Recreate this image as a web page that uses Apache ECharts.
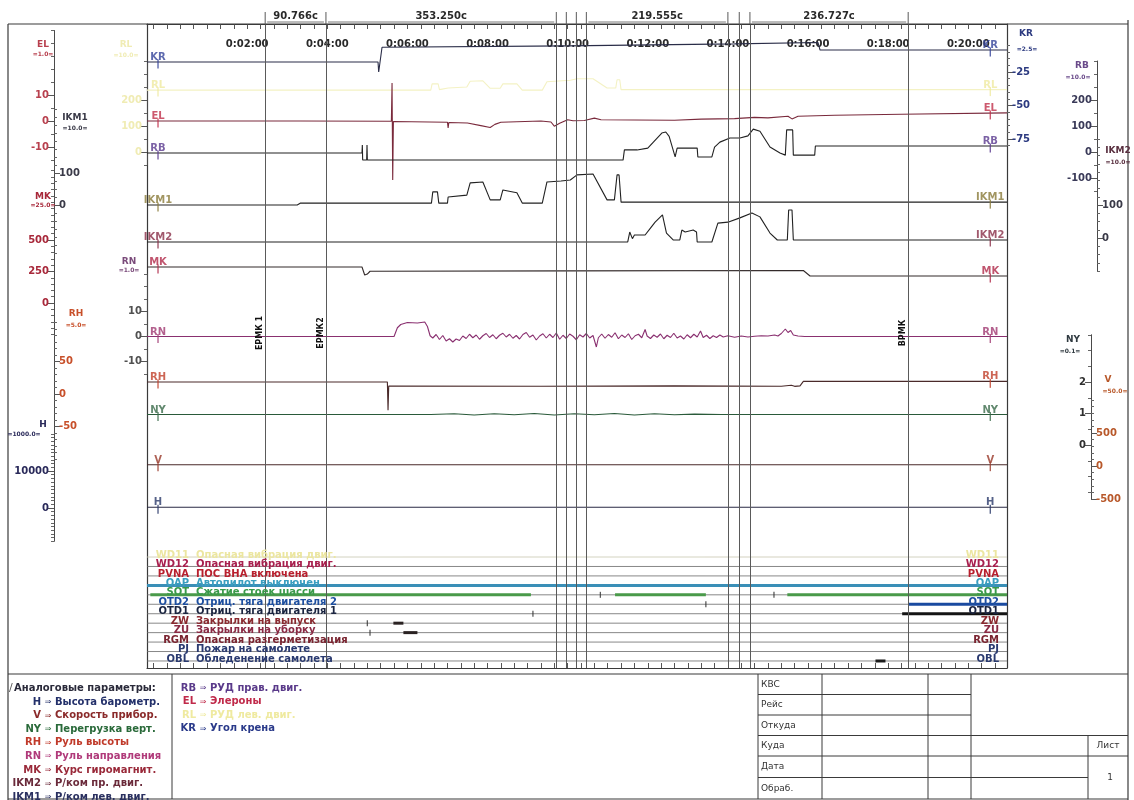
<!DOCTYPE html>
<html><head><meta charset="utf-8">
<script src="https://cdn.jsdelivr.net/npm/echarts@6.0.0/dist/echarts.min.js"></script>
<style>html,body{margin:0;padding:0;background:#fff}#c{width:1134px;height:800px}</style>
</head><body><div id="c"></div>
<script>
// ---------------- DATA ----------------
const timeTickSeconds = [120,240,360,480,600,720,840,960,1080,1200];
const timeTickLabels = ['0:02:00','0:04:00','0:06:00','0:08:00','0:10:00','0:12:00','0:14:00','0:16:00','0:18:00','0:20:00'];
const eventTimes = [147,238,583,598,613,628,840,857,873,1110];
const intervalLabels = ['90.766c','353.250c','219.555c','236.727c'];
const intervalSpans = [[0,1],[1,2],[5,6],[8,9]];
const eventMarkLabels = ['ЕРМК 1','ЕРМК2','ВРМК'];
const eventMarkTimes = [147,238,1110];

// analog channels: [seconds, value]
const KR = [[-30,-17.5],[316,-17.5],[317,-25],[318,-25],[322,-6.5],[600,-5.5],[850,-4],[975,-3],[978,-8.6],[1258,-8.6]];
const RL = [[-30,238],[395,238],[397,262],[406,262],[408,240],[421,246],[449,250],[454,272],[473,274],[484,245],[499,245],[503,262],[524,262],[532,238],[562,238],[569,270],[604,276],[614,282],[638,282],[659,246],[672,246],[674,278],[678,278],[680,240],[1258,240]];
const EL = [[-30,0.2],[200,0.2],[336,0.1],[337,14.8],[338,-22.5],[339,0],[420,-0.3],[421,-2.5],[422,-0.4],[450,-0.6],[470,-1.6],[484,-2.3],[491,-1.1],[500,-0.3],[560,0.2],[575,-0.2],[580,-1.8],[588,-0.7],[600,0.7],[608,0.3],[625,0.4],[640,1.3],[650,0.7],[700,0.6],[760,0.5],[800,0.9],[850,1.1],[880,1.6],[900,1.4],[930,2.0],[936,1.0],[945,2.0],[1000,2.4],[1100,2.8],[1258,3.3]];
const RB = [[-30,-4],[292,-4],[292.5,27],[293,-31],[299,-31],[299.5,27],[300,-31],[683,-31],[685,8],[704,8],[706,15],[720,15],[741,73],[747,77],[752,60],[761,-19],[763,-19],[764,15],[794,15],[795,-19],[816,-19],[820,19],[828,38],[843,54],[858,54],[870,62],[878,88],[888,80],[903,19],[918,-4],[926,-12],[928,85],[937,85],[938,-12],[970,-12],[971,23],[1258,23]];
const IKM1 = [[-30,0],[195,0],[200,6],[396,6],[398,41],[405,41],[407,6],[420,6],[421,25],[449,31],[454,69],[473,72],[484,16],[499,16],[503,47],[520,40],[524,38],[532,6],[562,6],[569,72],[590,75],[604,78],[614,94],[638,97],[659,16],[670,16],[674,94],[677,94],[680,9],[1258,9]];
const IKM2 = [[-30,-12],[683,-12],[690,-12],[693,18],[697,-2],[700,9],[716,9],[724,30],[731,48],[742,70],[748,15],[758,-6],[768,-6],[771,24],[776,18],[788,24],[793,18],[794,-12],[816,-12],[825,45],[840,48],[858,61],[876,76],[888,64],[903,15],[914,-6],[929,-6],[931,85],[936,85],[938,-6],[1258,-6]];
const MK = [[-30,286],[292,286],[296,222],[300,230],[304,252],[600,255],[953,258],[963,214],[1258,214]];
const RN = [[-30,0],[340,0],[345,3.5],[350,4.8],[360,5.6],[375,5.4],[386,5.8],[390,4.0],[394,0.3],[398,-0.6],[403,0.8],[408,-1.2],[413,0.4],[418,-1.8],[423,-0.9],[428,-2.2],[433,-1.0],[438,-1.6],[443,0.2],[448,-0.8],[453,0.9],[458,-0.5],[463,0.6],[468,-1.1],[473,0.3],[478,1.2],[483,-0.4],[488,0.7],[493,-0.9],[498,0.5],[503,1.3],[508,-0.2],[513,0.9],[518,-0.7],[523,0.4],[528,-1.0],[533,0.8],[538,1.6],[543,-0.3],[548,0.6],[553,-1.4],[558,0.2],[563,1.1],[568,-0.6],[573,0.9],[578,-0.4],[583,1.4],[588,-1.1],[593,0.5],[598,-0.8],[603,1.0],[608,0.1],[613,-1.3],[618,0.7],[623,-0.2],[628,1.2],[633,-0.6],[638,0.4],[643,-4.2],[646,-0.5],[651,1.0],[656,-0.7],[661,0.8],[666,-0.3],[671,1.5],[676,-0.9],[681,0.6],[686,-0.4],[691,1.1],[696,-1.2],[701,0.3],[706,0.9],[711,-0.5],[716,2.8],[719,0.2],[724,-0.8],[729,0.6],[734,-0.3],[739,1.0],[744,-0.9],[749,0.5],[754,-0.4],[759,1.3],[764,-0.6],[769,0.2],[774,-1.0],[779,0.7],[784,-0.5],[789,0.9],[794,-0.2],[799,2.2],[803,-0.4],[808,0.5],[813,-0.8],[818,0.3],[823,-0.4],[828,0.6],[833,-0.2],[840,0.3],[850,-0.3],[860,0.2],[870,-0.2],[880,0.1],[890,0.3],[900,0.2],[910,0.6],[915,0.2],[920,1.2],[926,3.0],[930,1.6],[934,2.4],[938,0.6],[945,0.2],[955,0],[1258,0]];
const RH = [[-30,18.5],[330,18.5],[331,-25],[332,12.3],[560,12.0],[760,12.5],[920,12.0],[935,13.5],[940,11.8],[948,12.5],[953,19.5],[1258,19.5]];
const NY = [[-30,0.97],[395,0.97],[430,0.99],[460,0.95],[490,0.99],[520,0.96],[550,1.0],[580,0.95],[610,0.99],[640,0.96],[670,1.0],[700,0.95],[730,0.99],[760,0.96],[790,0.98],[830,0.97],[1258,0.97]];
const V = [[-30,20],[1258,20]];
const H = [[-30,200],[1258,200]];

// discrete channels
const discreteCodes = ['WD11','WD12','PVNA','OAP','SOT','OTD2','OTD1','ZW','ZU','RGM','PJ','OBL'];
const discreteTexts = ['Опасная вибрация двиг.','Опасная вибрация двиг.','ПОС ВНА включена','Автопилот выключен','Сжатие стоек шасси','Отриц. тяга двигателя 2','Отриц. тяга двигателя 1','Закрылки на выпуск','Закрылки на уборку','Опасная разгерметизация','Пожар на самолете','Обледенение самолета'];
const oapOn = [[-30,1258]];
const sotOn = [[-25,545],[671,807],[929,1258]];
const otd2On = [[1110,1258]];
const otd1On = [[1101,1258]];
const zwOn = [[339,354]];
const zuOn = [[354,375]];
const oblOn = [[1061,1076]];
const discreteBlips = [[4,649],[4,909],[5,807],[6,548],[7,300],[8,304]]; // [row, seconds]

// legend text
const legendLeftCodes = ['H','V','NY','RH','RN','MK','IKM2','IKM1'];
const legendLeftTexts = ['Высота барометр.','Скорость прибор.','Перегрузка верт.','Руль высоты','Руль направления','Курс гиромагнит.','Р/ком пр. двиг.','Р/ком лев. двиг.'];
const legendMidCodes = ['RB','EL','RL','KR'];
const legendMidTexts = ['РУД прав. двиг.','Элероны','РУД лев. двиг.','Угол крена'];
const tableRows = ['КВС','Рейс','Откуда','Куда','Дата','Обраб.'];

// ---------------- LAYOUT / STYLE ----------------
const W = 1134, PL = 147, PR = 1007, PT = 24, PB = 668, T0 = -30, T1 = 1258;
const FONT = 'DejaVu Sans';
const chans = [
 {name:'KR', data:KR, line:'#2a2d48', color:'#34449a', y0:38.5, k:1.34, min:-80, max:-5, step:5, labels:[-25,-50,-75], pos:'right', off:0, inside:false, lab:'#2c3a80', nc:'#2c3a80', scale:'=2.5=', np:[1026,34], sp:[1027,49]},
 {name:'RL', data:RL, line:'#f4f2c4', color:'#efeaa0', y0:152, k:0.26, min:-50, max:350, step:50, labels:[200,100,0], pos:'left', off:0, inside:false, lab:'#f0ecb4', nc:'#f0ecb4', scale:'=10.0=', np:[126,45], sp:[126,55]},
 {name:'EL', data:EL, line:'#7a2a3c', color:'#c0304a', y0:121.5, k:2.6, min:-15, max:35, step:5, labels:[10,0,-10], pos:'left', off:93, inside:false, lab:'#b8404e', nc:'#b8404e', scale:'=1.0=', np:[43,45], sp:[43,54]},
 {name:'RB', data:RB, line:'#222', color:'#5a3a8e', y0:152, k:0.26, min:-150, max:350, step:50, labels:[200,100,0,-100], pos:'right', off:90, inside:true, lab:'#3a3a58', nc:'#6a4a8a', scale:'=10.0=', np:[1082,66], sp:[1078,77]},
 {name:'IKM1', data:IKM1, line:'#222', color:'#8a7a3a', y0:205, k:0.32, min:-150, max:300, step:25, labels:[100,0], pos:'left', off:93, inside:true, lab:'#3a3a48', nc:'#3a3a48', scale:'=10.0=', np:[75,118], sp:[75,128]},
 {name:'IKM2', data:IKM2, line:'#222', color:'#8a3048', y0:238, k:0.33, min:-100, max:300, step:25, labels:[100,0], pos:'right', off:90, inside:false, lab:'#3a3a48', nc:'#5a3040', scale:'=10.0=', np:[1118,151], sp:[1118,162]},
 {name:'MK', data:MK, line:'#332a2a', color:'#b02a4a', y0:303, k:0.126, min:-250, max:1050, step:50, labels:[500,250,0], pos:'left', off:93, inside:false, lab:'#a8283a', nc:'#a8283a', scale:'=25.0=', np:[43,197], sp:[43,205]},
 {name:'RN', data:RN, line:'#8a3070', color:'#a03a72', y0:336.5, k:2.5, min:-15, max:25, step:5, labels:[10,0,-10], pos:'left', off:0, inside:false, lab:'#505050', nc:'#7a4a7a', scale:'=1.0=', np:[129,262], sp:[129,270]},
 {name:'RH', data:RH, line:'#4a2a2a', color:'#c0402a', y0:394, k:0.65, min:-100, max:110, step:10, labels:[50,0,-50], pos:'left', off:93, inside:true, lab:'#c8502a', nc:'#c8502a', scale:'=5.0=', np:[76,314], sp:[76,325]},
 {name:'NY', data:NY, line:'#2a5a3a', color:'#3a6a4a', y0:445, k:31.5, min:-1.5, max:3.5, step:0.5, labels:[2,1,0], pos:'right', off:84, inside:true, lab:'#303030', nc:'#303a40', scale:'=0.1=', np:[1073,340], sp:[1070,351]},
 {name:'V', data:V, line:'#4a2a2a', color:'#9a3a2a', y0:466, k:0.066, min:-500, max:1000, step:100, labels:[500,0,-500], pos:'right', off:84, inside:false, lab:'#b8582a', nc:'#b8582a', scale:'=50.0=', np:[1108,380], sp:[1115,391]},
 {name:'H', data:H, line:'#2a2a44', color:'#2a3a6a', y0:508, k:0.0037, min:-9000, max:20000, step:1000, labels:[10000,0], pos:'left', off:93, inside:false, lab:'#2a2a5a', nc:'#2a2a5a', scale:'=1000.0=', np:[43,425], sp:[24,434]}
];
const discreteColors = ['#ece6a0','#a8204e','#b8202e','#3a9ec0','#3a9a4a','#1e4fa0','#1a2440','#8a2a30','#8a2a44','#7a2430','#2a3a70','#2a3a70'];
const legendLeftColors = ['#23306a','#8a2a2a','#2a6a3a','#c03a2a','#b03a7a','#9a2a3a','#6a2a3a','#2a3060'];
const legendMidColors = ['#5a3a8a','#c02a4a','#efeaa0','#2a3a8a'];

const minorTimes = [];
for (let t = -20; t <= 1250; t += 20) minorTimes.push(t);

const option = {animation:false, backgroundColor:'#ffffff', textStyle:{fontFamily:FONT}, grid:[], xAxis:[], yAxis:[], series:[]};
// frame grid 0
option.grid.push({left:PL, right:W-PR, top:PT, bottom:800-PB});
option.xAxis.push({type:'value', gridIndex:0, position:'top', min:T0, max:T1,
  axisLine:{show:true, onZero:false, lineStyle:{color:'#3a3a3a', width:1.2}},
  axisTick:{show:true, inside:true, length:5, customValues:minorTimes, lineStyle:{color:'#555'}},
  axisLabel:{show:true, inside:true, margin:15, customValues:timeTickSeconds,
    formatter:v=>{const i=timeTickSeconds.indexOf(v);return i>=0?timeTickLabels[i]:'';}, fontSize:10, fontWeight:'bold', color:'#2a2a2a', fontFamily:FONT},
  splitLine:{show:false}});
option.xAxis.push({type:'value', gridIndex:0, position:'bottom', min:T0, max:T1,
  axisLine:{show:true, onZero:false, lineStyle:{color:'#3a3a3a', width:1.2}},
  axisTick:{show:true, inside:true, length:5, customValues:minorTimes, lineStyle:{color:'#555'}},
  axisLabel:{show:false}, splitLine:{show:false}});
['left','right'].forEach(p=>option.yAxis.push({type:'value', gridIndex:0, position:p, min:0, max:1,
  axisLine:{show:true, onZero:false, lineStyle:{color:'#3a3a3a', width:1.2}}, axisTick:{show:false}, axisLabel:{show:false}, splitLine:{show:false}}));
option.series.push({type:'line', xAxisIndex:0, yAxisIndex:0, data:[[T0,0.5]], symbol:'none', lineStyle:{opacity:0}, silent:true,
  markLine:{silent:true, symbol:'none', label:{show:false}, lineStyle:{color:'#5a5a5a', width:1, type:'solid'},
    data:eventTimes.map(t=>({xAxis:t}))}});

// channel grids
chans.forEach((c, i) => {
  const g = i + 1;
  option.grid.push({left:PL, right:W-PR, top:c.y0 - c.k*c.max, height:c.k*(c.max-c.min)});
  option.xAxis.push({type:'value', gridIndex:g, min:T0, max:T1, show:false});
  const isLab = v => c.labels.some(l=>Math.abs(l-v)<1e-6);
  option.yAxis.push({type:'value', gridIndex:g, min:c.min, max:c.max, interval:c.step, position:c.pos, offset:c.off,
    axisLine:{show:true, onZero:false, lineStyle:{color:'#4a4a4a', width:1}},
    axisTick:{show:true, inside:c.inside, length:3, lineStyle:{color:'#666'}},
    axisLabel:{show:true, inside:c.inside, margin:5, formatter:v=>isLab(v)?String(v):'', color:c.lab, fontSize:10, fontWeight:'bold', fontFamily:FONT},
    splitLine:{show:false}});
  option.yAxis.push({type:'value', gridIndex:g, min:c.min, max:c.max, position:c.pos, offset:c.off,
    axisLine:{show:false, onZero:false}, axisTick:{show:true, inside:c.inside, length:6, customValues:c.labels, lineStyle:{color:'#555'}},
    axisLabel:{show:false}, splitLine:{show:false}});
  const xi = 2 + i, yi = 2 + 2*i;
  option.series.push({type:'line', name:c.name, xAxisIndex:xi, yAxisIndex:yi, data:c.data, symbol:'none', clip:false,
    lineStyle:{color:c.line, width:1.1}, z:3, silent:true});
  option.series.push({type:'scatter', xAxisIndex:xi, yAxisIndex:yi, clip:false, silent:true, z:4,
    data:[[-13.5, c.data[0][1]],[1233, c.data[c.data.length-1][1]]],
    symbol:'rect', symbolSize:[1.4,9], symbolOffset:[0,2], itemStyle:{color:c.color},
    label:{show:true, position:'top', distance:0, offset:[0,3], formatter:c.name, color:c.color, fontSize:10, fontWeight:'bold', fontFamily:FONT}});
});

// discrete grid
const DG = chans.length + 1;
const DX = option.xAxis.length, DY = option.yAxis.length;
option.grid.push({left:PL, right:W-PR, top:552.3, height:113.4});
option.xAxis.push({type:'value', gridIndex:DG, min:T0, max:T1, show:false});
option.yAxis.push({type:'value', gridIndex:DG, min:-0.5, max:11.5, inverse:true, show:false});
discreteCodes.forEach((code, r) => {
  option.series.push({type:'line', xAxisIndex:DX, yAxisIndex:DY, data:[[T0,r],[T1,r]], symbol:'none', silent:true,
    lineStyle:{color: r===0 ? '#c8c6b0' : '#6a6a6a', width:0.8}, z:2});
});
const activeRows = [[3,oapOn],[4,sotOn],[5,otd2On],[6,otd1On],[7,zwOn],[8,zuOn],[11,oblOn]];
const activeColors = {3:'#3a8fb7',4:'#4a9a4a',5:'#1a4aa0',6:'#141414',7:'#2a2222',8:'#2a2222',11:'#1a1a1a'};
activeRows.forEach(([r, spans]) => {
  const d = [];
  spans.forEach(([a,b]) => { d.push([a,r],[b,r],[b,'-']); });
  option.series.push({type:'line', xAxisIndex:DX, yAxisIndex:DY, data:d, symbol:'none', silent:true, clip:false,
    connectNulls:false, lineStyle:{color:activeColors[r], width:3}, z:3});
});
option.series.push({type:'scatter', xAxisIndex:DX, yAxisIndex:DY, data:discreteBlips.map(([r,t])=>[t,r]), silent:true,
  symbol:'rect', symbolSize:[1.3,6], itemStyle:{color:'#333'}, z:3});

const chart = echarts.init(document.getElementById('c'), null, {renderer:'canvas', width:1134, height:800});
chart.setOption(option);

// ---------------- GRAPHIC (text, frame, table) ----------------
const G = [];
function ln(x1,y1,x2,y2,c,w){G.push({type:'line', silent:true, z:5, shape:{x1,y1,x2,y2}, style:{stroke:c||'#3a3a3a', lineWidth:w||1}});}
function tx(x,y,t,o){o=o||{};G.push({type:'text', silent:true, z:10, x:x, y:y, rotation:o.rot||0,
  style:{text:t, fill:o.c||'#222', fontSize:o.s||10, fontWeight:o.b===false?'normal':'bold', fontFamily:FONT,
    align:o.a||'left', verticalAlign:'middle', textAlign:o.a||'left', textVerticalAlign:'middle'}});}
const px = t => chart.convertToPixel({xAxisIndex:0}, t);

// outer frame
ln(8,PT,1128,PT,'#3a3a3a',1.2);
ln(8,PT,8,800,'#3a3a3a',1.2);
ln(1128,PT-4,1128,800,'#3a3a3a',1.2);
ln(8,674,1128,674,'#3a3a3a',1.2);
ln(8,799,1128,799,'#3a3a3a',1.2);
ln(172,674,172,799,'#3a3a3a',1);

// channel scale names
chans.forEach(c => {
  tx(c.np[0], c.np[1], c.name, {c:c.nc, s:9, a:'center'});
  tx(c.sp[0], c.sp[1], c.scale, {c:c.nc, s:6, a:'center'});
});

// events
eventTimes.forEach(t => { const x = px(t); ln(x, 12, x, PT, '#5a5a5a', 1); });
intervalSpans.forEach(([a,b], i) => {
  const xa = px(eventTimes[a]), xb = px(eventTimes[b]);
  tx((xa+xb)/2, 16, intervalLabels[i], {s:10, c:'#2a2a2a', a:'center'});
  ln(xa+2, 22, xb-2, 22, '#555', 0.8);
});
eventMarkTimes.forEach((t, i) => {
  tx(px(t)-5, 333, eventMarkLabels[i], {s:8, c:'#111', a:'center', rot:Math.PI/2});
});

// discrete labels
discreteCodes.forEach((code, r) => {
  const y = chart.convertToPixel({yAxisIndex:DY}, r) - 2;
  tx(189, y, code, {c:discreteColors[r], s:10, a:'right'});
  tx(196, y, discreteTexts[r], {c:discreteColors[r], s:10});
  tx(999, y, code, {c:discreteColors[r], s:10, a:'right'});
});

// legend
tx(9, 688, '/', {c:'#555', s:11, b:false});
tx(14, 688, 'Аналоговые параметры:', {c:'#2a2a3a', s:10});
legendLeftCodes.forEach((code, i) => {
  const y = 702 + 13.6*i;
  tx(41, y, code, {c:legendLeftColors[i], s:10, a:'right'});
  tx(48, y, '⇒', {c:legendLeftColors[i], s:8, a:'center', b:false});
  tx(55, y, legendLeftTexts[i], {c:legendLeftColors[i], s:10});
});
legendMidCodes.forEach((code, i) => {
  const y = 688 + 13.6*i;
  tx(196, y, code, {c:legendMidColors[i], s:10, a:'right'});
  tx(203, y, '⇒', {c:legendMidColors[i], s:8, a:'center', b:false});
  tx(210, y, legendMidTexts[i], {c:legendMidColors[i], s:10});
});

// title block table
const tr = [674,694.5,715,735.5,756,777.5,799];
[758,822,928,971].forEach(x => ln(x,674,x,799,'#3a3a3a',1));
ln(1088,735.5,1088,799,'#3a3a3a',1);
ln(758,694.5,971,694.5,'#3a3a3a',1);
ln(758,715,971,715,'#3a3a3a',1);
ln(758,735.5,1128,735.5,'#3a3a3a',1);
ln(758,756,1128,756,'#3a3a3a',1);
ln(758,777.5,1088,777.5,'#3a3a3a',1);
tableRows.forEach((t, i) => tx(761, (tr[i]+tr[i+1])/2, t, {c:'#333', s:9, b:false}));
tx(1108, 746, 'Лист', {c:'#333', s:9, b:false, a:'center'});
tx(1110, 778, '1', {c:'#333', s:9, b:false, a:'center'});

chart.setOption({graphic: G});
</script></body></html>
